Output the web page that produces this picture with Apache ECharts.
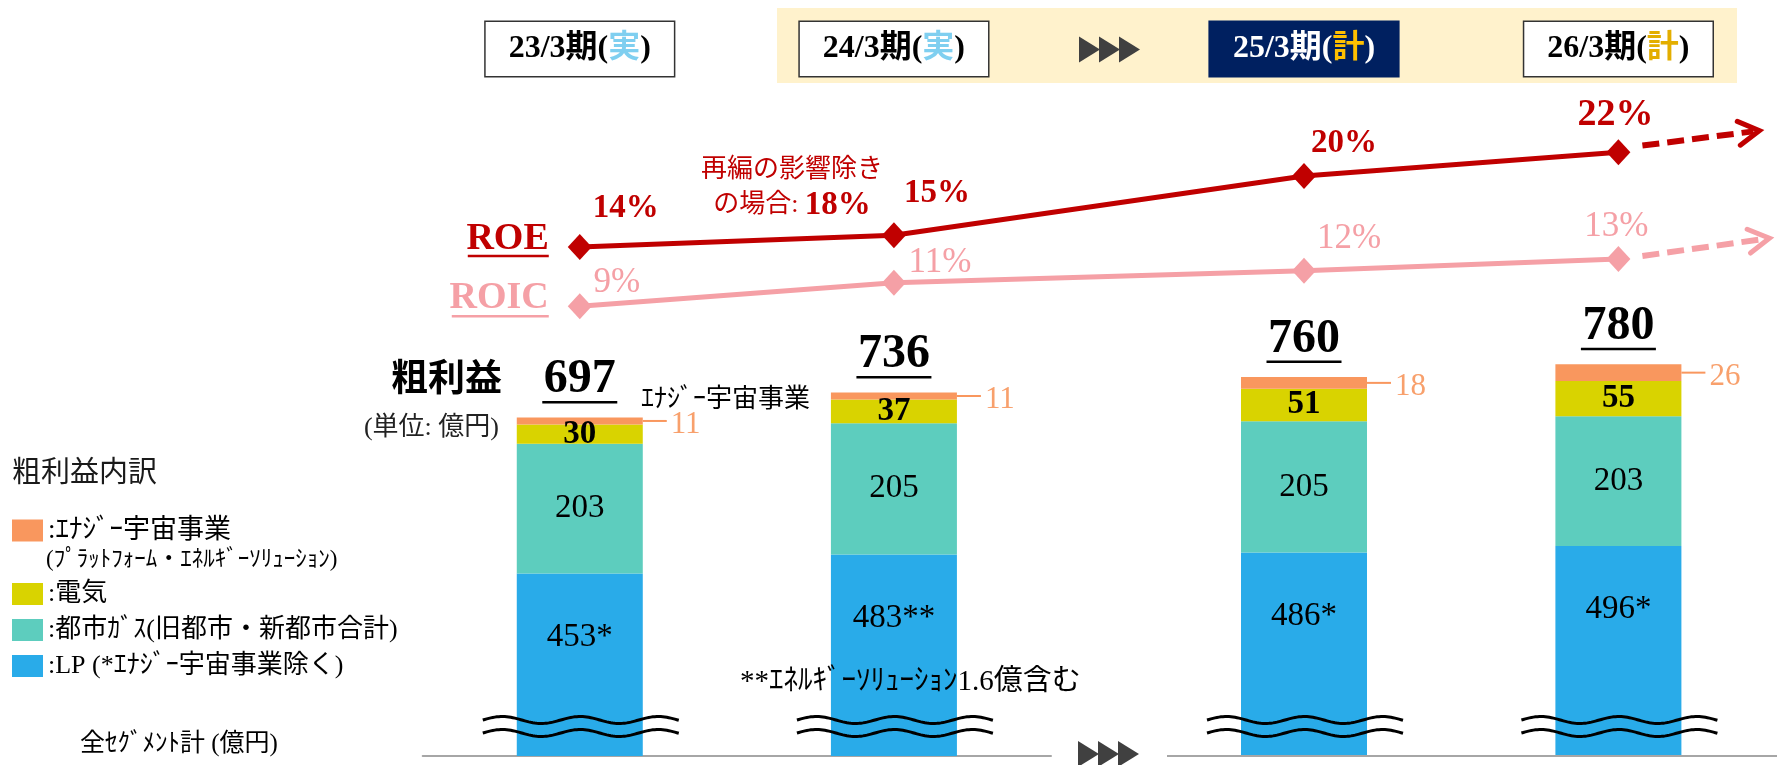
<!DOCTYPE html>
<html>
<head>
<meta charset="utf-8">
<script src="https://cdn.jsdelivr.net/npm/echarts@6/dist/echarts.min.js"></script>
<style>
  html, body { margin: 0; padding: 0; background: #ffffff; }
  #chart { width: 1777px; height: 765px; }
</style>
</head>
<body>
<div id="chart"></div>
<script>
// ---- data ----
const periods = ['23/3期', '24/3期', '25/3期', '26/3期'];
const periodKind = ['実', '実', '計', '計'];
const lpValues = [453, 483, 486, 496];
const lpNotes = ['*', '**', '*', '*'];
const cityGasValues = [203, 205, 205, 203];
const powerValues = [30, 37, 51, 55];
const spaceValues = [11, 11, 18, 26];
const totalValues = [697, 736, 760, 780];
const roeValues = [14, 15, 20, 22];
const roicValues = [9, 11, 12, 13];
const roeExReorg = 18;

const legendLabels = {
  'ｴﾅｼﾞｰ宇宙事業': ':ｴﾅｼﾞｰ宇宙事業',
  '電気': ':電気',
  '都市ｶﾞｽ': ':都市ｶﾞｽ(旧都市・新都市合計)',
  'LP': ':LP (*ｴﾅｼﾞｰ宇宙事業除く)'
};

// ---- styling ----
const FONT = "'Liberation Serif', 'Noto Sans CJK JP', serif";
const C = {
  lp: '#29ABE9', gas: '#5DCDBE', power: '#D9D300', space: '#F9975E', spaceText: '#F8A06C',
  roe: '#C00000', roic: '#F5A0A6', navy: '#002060', tan: '#FFF2CC', arrow: '#404040', base: '#A6A6A6'
};
const BAR_MIN = 168;          // value axis starts above zero: the LP bar is shown broken
const BAR_MAX = 1168;
const roeLabelShift = [[46, -39], [43, -42], [40, -33], [-3, -37]];
const roicLabelShift = [[37, -24], [46, -20], [45, -32], [-2, -32]];

const chart = echarts.init(document.getElementById('chart'));
const half = (arr, g) => arr.slice(g * 2, g * 2 + 2);

function headerFormatter(v) {
  const i = periods.indexOf(v);
  if (i === 2) return '{w|' + v + '(}{kc|' + periodKind[i] + '}{w|)}';
  return '{p|' + v + '(}{' + (i < 2 ? 'ka' : 'kb') + '|' + periodKind[i] + '}{p|)}';
}
const headerLabel = {
  show: true, interval: 0, margin: 8,
  fontFamily: FONT, fontSize: 32, fontWeight: 'bold', color: '#000',
  backgroundColor: '#ffffff', borderColor: '#333333', borderWidth: 1.5,
  padding: [11, 23, 11, 23],
  formatter: headerFormatter,
  rich: {
    p: { fontFamily: FONT, fontSize: 32, fontWeight: 'bold', color: '#000' },
    w: { fontFamily: FONT, fontSize: 32, fontWeight: 'bold', color: '#ffffff' },
    ka: { fontFamily: FONT, fontSize: 32, fontWeight: 'bold', color: '#7FCFF0' },
    kb: { fontFamily: FONT, fontSize: 32, fontWeight: 'bold', color: '#E3AE00' },
    kc: { fontFamily: FONT, fontSize: 32, fontWeight: 'bold', color: '#FFC000' }
  }
};
function headerData(g) {
  return half(periods, g).map(p => p === '25/3期'
    ? { value: p, textStyle: { backgroundColor: C.navy, borderColor: C.navy } }
    : p);
}

function barSeries(g) {
  const common = {
    type: 'bar', xAxisIndex: g * 2, yAxisIndex: g, stack: 'gp' + g,
    barWidth: 126, barGap: '-100%', silent: true
  };
  return [
    Object.assign({}, common, {
      name: 'LP', data: half(lpValues, g), itemStyle: { color: C.lp },
      label: { show: true, position: 'insideTop', distance: 47, fontFamily: FONT, fontSize: 33, color: '#000',
        formatter: p => p.value + lpNotes[g * 2 + p.dataIndex] }
    }),
    Object.assign({}, common, {
      name: '都市ｶﾞｽ', data: half(cityGasValues, g), itemStyle: { color: C.gas },
      label: { show: true, position: 'inside', fontFamily: FONT, fontSize: 33, color: '#000' }
    }),
    Object.assign({}, common, {
      name: '電気', data: half(powerValues, g), itemStyle: { color: C.power },
      label: { show: true, position: 'inside', fontFamily: FONT, fontSize: 33, fontWeight: 'bold', color: '#000' }
    }),
    Object.assign({}, common, {
      name: 'ｴﾅｼﾞｰ宇宙事業', data: half(spaceValues, g), itemStyle: { color: C.space },
      label: { show: true, position: 'right', distance: 0,
        formatter: p => '{l|}{v|' + p.value + '}',
        rich: {
          l: { width: 24, height: 2, backgroundColor: C.space },
          v: { fontFamily: FONT, fontSize: 31, color: C.spaceText, padding: [8, 0, 0, 4] }
        } }
    }),
    {
      type: 'bar', xAxisIndex: g * 2, yAxisIndex: g, name: '粗利益', barWidth: 126, barGap: '-100%',
      data: half(totalValues, g), itemStyle: { color: 'rgba(0,0,0,0)' }, z: 1, silent: true,
      label: { show: true, position: 'top', distance: 14,
        formatter: p => '{v|' + p.value + '}\n{u|}',
        rich: {
          v: { fontFamily: FONT, fontSize: 48, fontWeight: 'bold', color: '#000', lineHeight: 42 },
          u: { width: 75, height: 2.5, backgroundColor: '#000' }
        } }
    }
  ];
}

function lineSeries(id, color, weight, size) {
  return {
    id: id, name: id, type: 'line', xAxisIndex: 4, yAxisIndex: 2, data: [],
    symbol: 'diamond', symbolSize: [24, 26], showAllSymbol: true, silent: true, z: 10,
    lineStyle: { color: color, width: 5 }, itemStyle: { color: color },
    label: { show: true, position: 'inside', fontFamily: FONT, fontWeight: weight, fontSize: size, color: color,
      formatter: p => p.value[1] + '%' }
  };
}

const legendText = { fontFamily: FONT, fontSize: 26, color: '#000', lineHeight: 22 };
const option = {
  animation: false,
  backgroundColor: '#ffffff',
  textStyle: { fontFamily: FONT },
  grid: [
    { left: 422.7, width: 628.3, top: 116, bottom: 9, outerBoundsMode: 'none' },
    { left: 1146.8, width: 628.8, top: 116, bottom: 9, outerBoundsMode: 'none' },
    { left: 0, right: 0, top: 116.75, bottom: 352, outerBoundsMode: 'none' }
  ],
  xAxis: [
    { gridIndex: 0, type: 'category', data: half(periods, 0), position: 'bottom',
      axisLine: { show: true, lineStyle: { color: C.base, width: 2 } }, axisTick: { show: false }, axisLabel: { show: false } },
    { gridIndex: 0, type: 'category', data: headerData(0), position: 'top', offset: 32,
      axisLine: { show: false }, axisTick: { show: false }, axisLabel: headerLabel },
    { gridIndex: 1, type: 'category', data: half(periods, 1), position: 'bottom',
      axisLine: { show: false }, axisTick: { show: false }, axisLabel: { show: false } },
    { gridIndex: 1, type: 'category', data: headerData(1), position: 'top', offset: 32,
      axisLine: { show: false }, axisTick: { show: false }, axisLabel: headerLabel },
    { gridIndex: 2, type: 'value', min: 0, max: 1777, show: false }
  ],
  yAxis: [
    { gridIndex: 0, type: 'value', min: BAR_MIN, max: BAR_MAX, show: false },
    { gridIndex: 1, type: 'value', min: BAR_MIN, max: BAR_MAX, show: false },
    { gridIndex: 2, type: 'value', min: 0, max: 25, show: false }
  ],
  legend: [
    { data: ['ｴﾅｼﾞｰ宇宙事業'], left: 12, top: 517, orient: 'vertical', padding: 0,
      itemWidth: 31, itemHeight: 22, icon: 'rect', selectedMode: false,
      formatter: n => legendLabels[n], textStyle: Object.assign({}, legendText, { fontSize: 27 }) },
    { data: ['電気', '都市ｶﾞｽ', 'LP'], left: 12, top: 581, orient: 'vertical', padding: 0, itemGap: 10,
      itemWidth: 31, itemHeight: 22, icon: 'rect', selectedMode: false,
      formatter: n => legendLabels[n], textStyle: legendText }
  ],
  series: [].concat(barSeries(0), barSeries(1),
    [lineSeries('ROE', C.roe, 'bold', 33), lineSeries('ROIC', C.roic, 'normal', 35)])
};
chart.setOption(option);

// ---- second pass: place the ratio lines over the bar category centres ----
const centers = periods.map((p, i) => chart.convertToPixel({ xAxisIndex: i < 2 ? 0 : 2 }, i % 2));
const lineX = centers.map(px => chart.convertFromPixel({ xAxisIndex: 4 }, px));
const baseY = chart.convertToPixel({ yAxisIndex: 0 }, BAR_MIN);
const roePts = roeValues.map((v, i) => chart.convertToPixel({ gridIndex: 2 }, [lineX[i], v]));
const roicPts = roicValues.map((v, i) => chart.convertToPixel({ gridIndex: 2 }, [lineX[i], v]));

function text(x, y, str, size, extra) {
  return {
    type: 'text', x: x, y: y, z: 50, silent: true,
    style: Object.assign({ text: str, fontFamily: FONT, fontSize: size, fill: '#000', align: 'left', verticalAlign: 'middle' }, extra || {})
  };
}
function triangles(x0, y0) {
  const out = [];
  for (let k = 0; k < 3; k++) {
    const x = x0 + k * 20;
    out.push({ type: 'polygon', z: 50, silent: true, shape: { points: [[x, y0], [x + 21, y0 + 13], [x, y0 + 26]] }, style: { fill: C.arrow } });
  }
  return out;
}
function wave(x0, x1, yc) {
  const pts = [];
  for (let x = x0; x <= x1; x += 2) pts.push([x, yc - 3.5 * Math.sin((x - x0) / 78 * 2 * Math.PI)]);
  return { type: 'polyline', z: 60, silent: true, shape: { points: pts }, style: { stroke: '#000', lineWidth: 3, fill: null } };
}
function trendArrow(pt, color, start, tip) {
  const sx = pt[0] + start[0], sy = pt[1] + start[1];
  const tx = pt[0] + tip[0], ty = pt[1] + tip[1];
  const ang = Math.atan2(ty - sy, tx - sx);
  const arm = 24, spread = Math.PI / 6;
  const a1 = [tx - arm * Math.cos(ang - spread), ty - arm * Math.sin(ang - spread)];
  const a2 = [tx - arm * Math.cos(ang + spread), ty - arm * Math.sin(ang + spread)];
  return [
    { type: 'line', z: 40, silent: true, shape: { x1: sx, y1: sy, x2: tx - 6 * Math.cos(ang), y2: ty - 6 * Math.sin(ang) },
      style: { stroke: color, lineWidth: 6, lineDash: [17, 8] } },
    { type: 'polyline', z: 40, silent: true, shape: { points: [a1, [tx, ty], a2] },
      style: { stroke: color, lineWidth: 5, lineCap: 'round', lineJoin: 'miter', fill: null } }
  ];
}

const graphic = [
  { type: 'rect', z: -1, silent: true, shape: { x: 777, y: 8, width: 960, height: 75 }, style: { fill: C.tan } },
  { type: 'line', z: 5, silent: true, shape: { x1: 1167, y1: baseY, x2: 1777, y2: baseY }, style: { stroke: C.base, lineWidth: 2 } }
]
  .concat(triangles(1079, 36.5))
  .concat(triangles(1078, baseY - 15))
  .concat(centers.map(cx => wave(cx - 97, cx + 99, baseY - 36)))
  .concat(centers.map(cx => wave(cx - 97, cx + 99, baseY - 23)))
  .concat(trendArrow(roePts[3], C.roe, [24, -6.7], [141, -21.7]))
  .concat(trendArrow(roicPts[3], C.roic, [24, -3], [151, -20.7]))
  .concat([
    text(roePts[0][0] - 31, roePts[0][1] - 8, 'ROE', 38, { fill: C.roe, fontWeight: 'bold', align: 'right' }),
    { type: 'line', z: 50, silent: true, shape: { x1: roePts[0][0] - 112, y1: roePts[0][1] + 9, x2: roePts[0][0] - 31, y2: roePts[0][1] + 9 }, style: { stroke: C.roe, lineWidth: 2.5 } },
    text(roicPts[0][0] - 31, roicPts[0][1] - 8, 'ROIC', 38, { fill: C.roic, fontWeight: 'bold', align: 'right' }),
    { type: 'line', z: 50, silent: true, shape: { x1: roicPts[0][0] - 128, y1: roicPts[0][1] + 10, x2: roicPts[0][0] - 31, y2: roicPts[0][1] + 10 }, style: { stroke: C.roic, lineWidth: 2.5 } },
    {
      type: 'text', x: 792, y: 188, z: 50, silent: true,
      style: {
        text: '{a|再編の影響除き}\n{a|の場合: }{b|' + roeExReorg + '%}',
        align: 'center', verticalAlign: 'middle',
        rich: {
          a: { fontFamily: FONT, fontSize: 26, fill: C.roe, lineHeight: 35 },
          b: { fontFamily: FONT, fontSize: 33, fontWeight: 'bold', fill: C.roe, lineHeight: 35 }
        }
      }
    },
    text(502, 381, '粗利益', 37, { fontWeight: 'bold', align: 'right' }),
    text(499, 428, '(単位: 億円)', 26, { fill: '#222', align: 'right' }),
    text(641, 400, 'ｴﾅｼﾞｰ宇宙事業', 26),
    text(740, 682, '**ｴﾈﾙｷﾞｰｿﾘｭｰｼｮﾝ1.6億含む', 29),
    text(12, 474, '粗利益内訳', 29, { fill: '#1a1a1a' }),
    text(46, 560, '(ﾌﾟﾗｯﾄﾌｫｰﾑ・ｴﾈﾙｷﾞｰｿﾘｭｰｼｮﾝ)', 23),
    text(80, 744, '全ｾｸﾞﾒﾝﾄ計 (億円)', 25)
  ]);

chart.setOption({
  series: [
    { id: 'ROE', data: roeValues.map((v, i) => ({ value: [lineX[i], v], label: { offset: roeLabelShift[i], fontSize: i === 3 ? 38 : 33 } })) },
    { id: 'ROIC', data: roicValues.map((v, i) => ({ value: [lineX[i], v], label: { offset: roicLabelShift[i] } })) }
  ],
  graphic: graphic
});
</script>
</body>
</html>
